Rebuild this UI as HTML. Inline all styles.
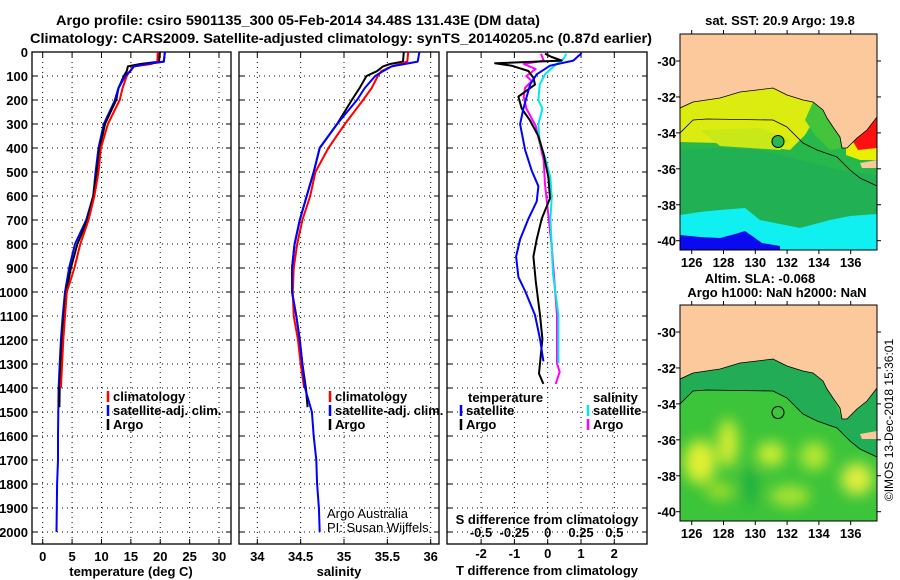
<!DOCTYPE html>
<html><head><meta charset="utf-8">
<style>
html,body{margin:0;padding:0;background:#fff;}
svg{display:block;}
text{font-family:"Liberation Sans",Arial,sans-serif;font-weight:bold;font-size:13px;fill:#000;}
.n{font-weight:normal;}
</style></head>
<body>
<svg id="fig" width="900" height="580" viewBox="0 0 900 580" xmlns="http://www.w3.org/2000/svg">
<defs>
<clipPath id="cp1"><rect x="32" y="52" width="199" height="492"/></clipPath>
<clipPath id="cp2"><rect x="239" y="52" width="200" height="492"/></clipPath>
<clipPath id="cp3"><rect x="447" y="52" width="200" height="492"/></clipPath>
<clipPath id="cmap"><rect x="680" y="34" width="197" height="216"/></clipPath>
<filter id="blur" x="-50%" y="-50%" width="200%" height="200%"><feGaussianBlur stdDeviation="7"/></filter>
</defs>
<rect x="0" y="0" width="900" height="580" fill="#fff"/>
<text x="298" y="25" text-anchor="middle" textLength="484" lengthAdjust="spacingAndGlyphs" style="font-size:14px">Argo profile: csiro 5901135_300 05-Feb-2014 34.48S 131.43E (DM data)</text>
<text x="341" y="43" text-anchor="middle" textLength="622" lengthAdjust="spacingAndGlyphs" style="font-size:14px">Climatology: CARS2009. Satellite-adjusted climatology: synTS_20140205.nc (0.87d earlier)</text>

<g id="p1"></g>
<g id="p2"></g>
<g id="p3"></g>

<!-- Maps -->
<g id="map-top">
 <g clip-path="url(#cmap)">
  <rect x="680" y="34" width="197" height="216" fill="#27b84c"/>
  <polygon points="680,150 720,148 760,150 800,160 840,170 877,175 877,250 680,250" fill="#22b055"/>
  <polygon points="680,108 693,102 720,98 740,92 757,90 773,88 787,95 803,100 813,102 820,110 805,135 790,150 760,146 720,143 680,142" fill="#dcec10"/>
  <polygon points="700,130 760,128 790,140 780,150 720,146" fill="#c8e818"/>
  <polygon points="813,102 823,110 827,118 833,127 840,137 842,148 830,150 815,135 805,120" fill="#44c43a"/>
  <polygon points="680,215 700,212 720,210 745,208 760,220 780,224 800,228 830,220 850,216 877,214 877,250 680,250" fill="#10f0f0"/>
  <polygon points="680,235 700,237 720,238 735,234 745,231 755,238 762,243 780,246 780,250 680,250" fill="#0a0af0"/>
  <polygon points="846,148 856,138 867,130 877,117 877,160 860,160 846,155" fill="#e8f000"/>
  <polygon points="852,140 866,130 877,117 877,148 858,150" fill="#ff1010"/>
  <polygon points="680,34 877,34 877,117 867,130 857,138 847,148 842,148 840,137 833,127 827,118 823,110 813,102 803,100 787,95 773,88 757,90 740,92 720,98 693,102 680,108" fill="#fcc99d" stroke="#000" stroke-width="0.8"/>
  <polygon points="860,163 877,160 877,168 862,168" fill="#fcc99d"/>
  <polyline points="680,133 693,120 707,119 773,120 787,127 803,143 817,150 837,157 850,170 860,178 877,186" fill="none" stroke="#000" stroke-width="0.8"/>
  <circle cx="778" cy="141.5" r="6" fill="#2ab84a" stroke="#000" stroke-width="1"/>
 </g>
 <rect x="680" y="34" width="197" height="216" fill="none" stroke="#000" stroke-width="1"/>
</g>
<g id="map-bot" transform="translate(0,271)">
 <g clip-path="url(#cmap)">
  <rect x="680" y="34" width="197" height="216" fill="#3cc43a"/>
  <g filter="url(#blur)">
   <ellipse cx="700" cy="191" rx="16" ry="22" fill="#e0f030"/>
   <ellipse cx="728" cy="172" rx="10" ry="24" fill="#d8ee30"/>
   <ellipse cx="771" cy="183" rx="14" ry="12" fill="#d0ee30"/>
   <ellipse cx="814" cy="185" rx="14" ry="14" fill="#b8e830"/>
   <ellipse cx="857" cy="208" rx="16" ry="16" fill="#e0ee40"/>
   <ellipse cx="720" cy="220" rx="14" ry="8" fill="#a8e028"/>
   <ellipse cx="790" cy="225" rx="20" ry="10" fill="#b0e430"/>
   <ellipse cx="750" cy="215" rx="8" ry="20" fill="#1fb040"/>
  </g>
  <polygon points="680,108 693,102 720,98 740,92 757,90 773,88 787,95 803,100 813,102 823,110 833,127 842,148 856,138 877,117 877,186 860,178 850,170 837,157 817,150 803,143 787,127 773,120 707,119 693,120 680,133" fill="#21ac55"/>
  <polygon points="680,34 877,34 877,117 867,130 857,138 847,148 842,148 840,137 833,127 827,118 823,110 813,102 803,100 787,95 773,88 757,90 740,92 720,98 693,102 680,108" fill="#fcc99d" stroke="#000" stroke-width="0.8"/>
  <polygon points="860,163 877,160 877,168 862,168" fill="#fcc99d"/>
  <polyline points="680,133 693,120 707,119 773,120 787,127 803,143 817,150 837,157 850,170 860,178 877,186" fill="none" stroke="#000" stroke-width="0.8"/>
  <circle cx="778" cy="141.5" r="6" fill="none" stroke="#000" stroke-width="1"/>
 </g>
 <rect x="680" y="34" width="197" height="216" fill="none" stroke="#000" stroke-width="1"/>
</g>
<g id="mapticks"></g>
<text x="780" y="25" text-anchor="middle">sat. SST: 20.9 Argo: 19.8</text>
<text x="760" y="283" text-anchor="middle">Altim. SLA: -0.068</text>
<text x="777" y="297" text-anchor="middle">Argo h1000: NaN h2000: NaN</text>
<text class="n" transform="translate(893,420) rotate(-90)" text-anchor="middle" style="font-size:12px">©IMOS 13-Dec-2018 15:36:01</text>
</svg>
<script>
// ---- data ----
const depthClim = [0,40,50,60,80,100,150,200,300,400,500,600,700,800,900,1000,1100,1200,1300,1400];
const depthArgo = [0,40,50,60,80,100,150,200,300,400,500,600,700,800,900,1000,1100,1200,1300,1400,1480];
const depthSat = [0,40,50,60,80,100,150,200,300,400,500,600,700,800,900,1000,1100,1200,1300,1400,1500,1600,1700,1800,1900,2000];
const tempClim = [19.6,19.5,18.5,15.5,14.8,14.3,13.6,13.1,11.1,9.9,9.5,8.8,7.8,6.4,5.4,4.1,3.8,3.5,3.3,3.1];
const tempArgo = [19.9,19.8,16.6,14.5,14.3,13.8,12.9,12.5,10.6,9.7,9.2,8.6,7.6,5.9,4.8,4.0,3.6,3.3,3.1,2.9,2.85];
const tempSat = [20.8,20.6,17.7,15.5,14.9,14.0,12.9,12.3,10.4,9.5,9.0,8.6,7.4,5.5,4.5,3.8,3.4,3.1,2.9,2.7,2.65,2.6,2.6,2.45,2.4,2.35];
const salClim = [35.74,35.73,35.65,35.55,35.43,35.39,35.32,35.22,35.01,34.82,34.67,34.61,34.52,34.46,34.42,34.41,34.42,34.47,34.50,34.54];
const salArgo = [35.69,35.68,35.53,35.45,35.38,35.26,35.18,35.09,34.92,34.72,34.65,34.57,34.49,34.43,34.40,34.40,34.45,34.49,34.52,34.56,34.58];
const salSat = [35.87,35.85,35.70,35.55,35.45,35.36,35.24,35.15,34.92,34.72,34.65,34.57,34.49,34.43,34.40,34.40,34.45,34.49,34.52,34.55,34.63,34.65,34.68,34.69,34.71,34.72];
const dTSatDepth = [4,36,57,93,136,236,301,408,494,559,623,695,781,852,938,996,1096,1196,1289];
const dTSat = [1.02,0.77,0.07,-0.33,-0.53,-0.73,-0.83,-0.68,-0.48,-0.28,-0.33,-0.58,-0.83,-0.95,-0.88,-0.68,-0.38,-0.23,-0.13];
const dTArgoDepth = [7,21,36,47,57,79,107,136,186,236,286,351,422,523,609,695,781,852,953,1096,1196,1297,1340,1383];
const dTArgo = [-0.08,0.12,0.42,-1.58,-1.08,-0.58,-0.43,-0.38,-0.88,-0.78,-0.53,-0.28,-0.13,0.02,0.07,-0.18,-0.33,-0.43,-0.36,-0.23,-0.16,-0.23,-0.26,-0.13];
const dSSatDepth = [7,28,57,93,136,200,236,301,380,437,523,609,695,809,924,1096,1196,1297];
const dSSat = [0.14,0.12,0.05,-0.02,-0.06,-0.07,-0.04,-0.07,-0.06,-0.02,0.02,0.03,0.02,0.03,0.04,0.08,0.08,0.08];
const dSArgoDepth = [7,36,50,71,100,121,150,186,236,308,380,451,551,809,1096,1297,1333,1383];
const dSArgo = [-0.05,-0.03,-0.18,-0.09,-0.16,-0.12,-0.17,-0.18,-0.16,-0.09,-0.06,-0.03,-0.02,0.03,0.07,0.07,0.09,0.06];
const depthTicks = [0,100,200,300,400,500,600,700,800,900,1000,1100,1200,1300,1400,1500,1600,1700,1800,1900,2000];
const tempTicks = [0,5,10,15,20,25,30];
const salTicks = [34,34.5,35,35.5,36];
const salTickLabels = ["34","34.5","35","35.5","36"];
const dTTicks = [-2,-1,0,1,2];
const dSTickLabels = ["-0.5","-0.25","0","0.25","0.5"];
const dSTicks = [-0.5,-0.25,0,0.25,0.5];
const lonTicks = [126,128,130,132,134,136];
const latTicks = [-30,-32,-34,-36,-38,-40];

// ---- axes ----
const yD = d => 52 + d*0.24;
const xT = t => 42.7 + t*5.877;
const xS = s => 257.3 + (s-34)*86.7;
const xDT = t => 547.7 + t*33.3;
const xDS = s => 547.7 + s*133.3;
const xLon = l => 691.7 + (l-126)*15.9;
const yLat = l => 61 + (-l-30)*17.97;

const NS = "http://www.w3.org/2000/svg";
function mk(tag, parent, attrs){ const e=document.createElementNS(NS,tag); for(const k in attrs) e.setAttribute(k,attrs[k]); parent.appendChild(e); return e; }
function txt(parent, x, y, s, anchor, cls){ const t=mk('text',parent,{x:x,y:y,'text-anchor':anchor||'middle'}); if(cls) t.setAttribute('class',cls); t.textContent=s; return t; }

function panel(g, x0, x1, xTicksPx, clip){
  const gr = mk('g', g, {});
  // grid
  xTicksPx.forEach(x => {
    const l = mk('line', gr, {x1:x,x2:x,y1:52,y2:544,stroke:'#000','stroke-width':1,'stroke-dasharray':'1,4'});
    
    
    mk('line', gr, {x1:x,x2:x,y1:544,y2:539,stroke:'#000'});
    mk('line', gr, {x1:x,x2:x,y1:52,y2:57,stroke:'#000'});
  });
  depthTicks.forEach(d => {
    const y = yD(d);
    if(d>0){
      const l = mk('line', gr, {x1:x0,x2:x1,y1:y,y2:y,stroke:'#000','stroke-width':1,'stroke-dasharray':'1,4'});
      
      
    }
    mk('line', gr, {x1:x0,x2:x0+5,y1:y,y2:y,stroke:'#000'});
    mk('line', gr, {x1:x1,x2:x1-5,y1:y,y2:y,stroke:'#000'});
  });
  const fr = mk('rect', gr, {x:x0,y:52,width:x1-x0,height:492,fill:'none',stroke:'#000','stroke-width':1.3});
  
  
  return mk('g', g, {'clip-path':'url(#'+clip+')'});
}
function line(parent, xs, ds, xf, color, name){
  const pts = xs.map((v,i)=> xf(v).toFixed(1)+','+yD(ds[i]).toFixed(1)).join(' ');
  const p = mk('polyline', parent, {points:pts, fill:'none', stroke:color, 'stroke-width':2, 'stroke-linejoin':'round'});
  
  
}
function legendRow(parent, x, y, color, label){
  mk('line', parent, {x1:x,x2:x,y1:y-6,y2:y+5,stroke:color,'stroke-width':2.5});
  const t = txt(parent, x+5, y+4, label, 'start');
  
  
}

// Panel 1 temperature
const g1 = document.getElementById('p1');
const c1 = panel(g1, 32, 231, tempTicks.map(xT), 'cp1');
line(c1, tempSat, depthSat, xT, '#0000ff', 'temp-satellite-line');
line(c1, tempArgo, depthArgo, xT, '#000000', 'temp-argo-line');
line(c1, tempClim, depthClim, xT, '#ff0000', 'temp-climatology-line');
line(c1, tempSat.slice(0,8), depthSat.slice(0,8), xT, '#0000ff', 'temp-satellite-line-top');
depthTicks.forEach(d => { const t = txt(g1, 28, yD(d)+5, String(d), 'end');
  
   });
tempTicks.forEach(v => { const t = txt(g1, xT(v), 561, String(v));
  
   });
const xt1 = txt(g1, 131, 576, 'temperature (deg C)');


legendRow(g1, 108, 397, '#ff0000', 'climatology');
legendRow(g1, 108, 411, '#0000ff', 'satellite-adj. clim.');
legendRow(g1, 108, 425, '#000000', 'Argo');

// Panel 2 salinity
const g2 = document.getElementById('p2');
const c2 = panel(g2, 239, 439, salTicks.map(xS), 'cp2');
line(c2, salArgo, depthArgo, xS, '#000000', 'sal-argo-line');
line(c2, salClim, depthClim, xS, '#ff0000', 'sal-climatology-line');
line(c2, salSat, depthSat, xS, '#0000ff', 'sal-satellite-line');
salTicks.forEach((v,i) => { const t = txt(g2, xS(v), 561, salTickLabels[i]);
  
   });
const xt2 = txt(g2, 339, 576, 'salinity');


legendRow(g2, 330, 397, '#ff0000', 'climatology');
legendRow(g2, 330, 411, '#0000ff', 'satellite-adj. clim.');
legendRow(g2, 330, 425, '#000000', 'Argo');
const cr1 = txt(g2, 327, 518, 'Argo Australia', 'start', 'n');


const cr2 = txt(g2, 327, 532, 'PI: Susan Wijffels', 'start', 'n');



// Panel 3 differences
const g3 = document.getElementById('p3');
const c3 = panel(g3, 447, 647, dTTicks.map(xDT), 'cp3');
line(c3, dSArgo, dSArgoDepth, xDS, '#ff00ff', 'sal-diff-argo-line');
line(c3, dSSat, dSSatDepth, xDS, '#00e8e8', 'sal-diff-satellite-line');
line(c3, dTArgo, dTArgoDepth, xDT, '#000000', 'temp-diff-argo-line');
line(c3, dTSat, dTSatDepth, xDT, '#0000ff', 'temp-diff-satellite-line');
dTTicks.forEach(v => { const t = txt(g3, xDT(v), 558, String(v));
  
   });
dSTicks.forEach((v,i) => { const t = txt(g3, xDS(v), 537, dSTickLabels[i]);
  
   });
const st = txt(g3, 547, 524, 'S difference from climatology');


const tt = txt(g3, 547, 575, 'T difference from climatology');


const lh1 = txt(g3, 468, 402, 'temperature', 'start');


const lh2 = txt(g3, 593, 402, 'salinity', 'start');


legendRow(g3, 461, 411, '#0000ff', 'satellite');
legendRow(g3, 461, 425, '#000000', 'Argo');
legendRow(g3, 588, 411, '#00e8e8', 'satellite');
legendRow(g3, 588, 425, '#ff00ff', 'Argo');

// map ticks
const mt = document.getElementById('mapticks');
[0,271].forEach((off,k) => {
  lonTicks.forEach(l => {
    const x = xLon(l);
    mk('line', mt, {x1:x,x2:x,y1:34+off,y2:30+off,stroke:'#000'});
    mk('line', mt, {x1:x,x2:x,y1:250+off,y2:254+off,stroke:'#000'});
    const t = txt(mt, x, 267+off, String(l));
    
    
  });
  latTicks.forEach(l => {
    const y = yLat(l)+off;
    mk('line', mt, {x1:680,x2:676,y1:y,y2:y,stroke:'#000'});
    mk('line', mt, {x1:877,x2:881,y1:y,y2:y,stroke:'#000'});
    const t = txt(mt, 676, y+5, String(l), 'end');
    
    
  });
});
</script>
</body></html>
